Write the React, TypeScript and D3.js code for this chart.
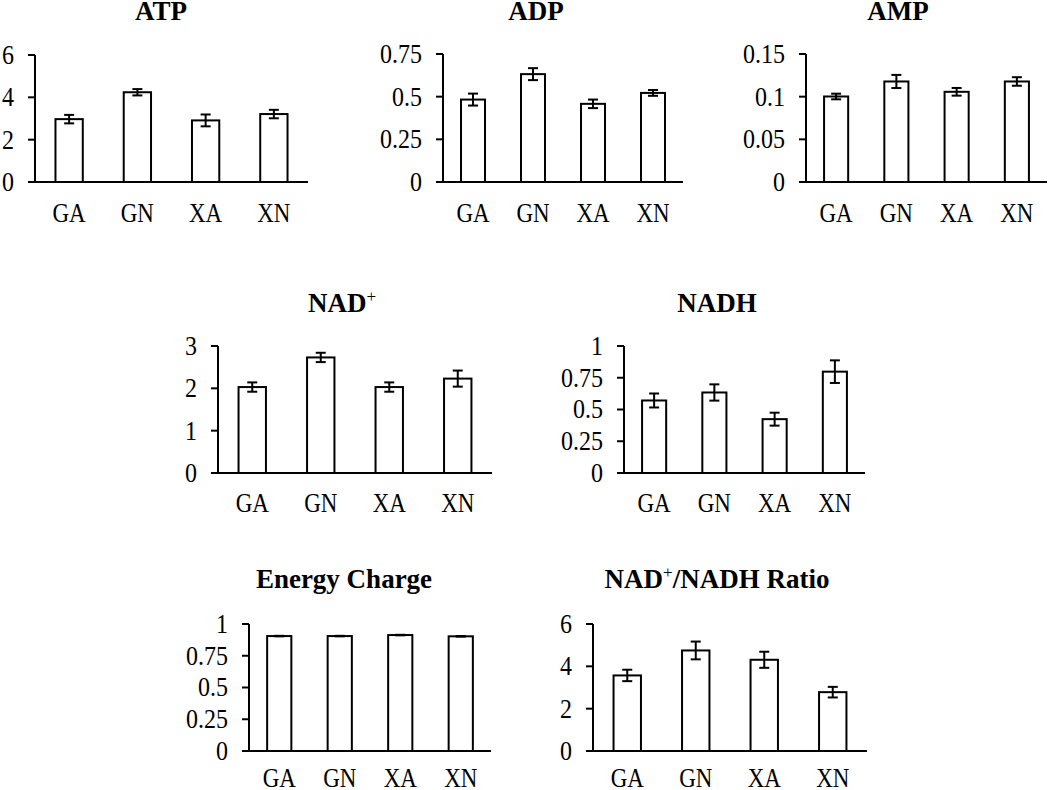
import { useEffect } from "react";
import * as d3 from "d3";

const categories = ["GA", "GN", "XA", "XN"];

const atpValues = [2.97, 4.24, 2.91, 3.21];
const atpErrors = [0.2, 0.15, 0.28, 0.2];
const atpTicks = [0, 2, 4, 6];

const adpValues = [0.483, 0.632, 0.458, 0.522];
const adpErrors = [0.035, 0.035, 0.025, 0.017];
const adpTicks = [0, 0.25, 0.5, 0.75];

const ampValues = [0.1002, 0.1178, 0.1057, 0.1178];
const ampErrors = [0.0033, 0.0077, 0.0045, 0.005];
const ampTicks = [0, 0.05, 0.1, 0.15];

const nadValues = [2.03, 2.73, 2.03, 2.23];
const nadErrors = [0.11, 0.11, 0.11, 0.19];
const nadTicks = [0, 1, 2, 3];

const nadhValues = [0.571, 0.634, 0.424, 0.798];
const nadhErrors = [0.055, 0.064, 0.051, 0.089];
const nadhTicks = [0, 0.25, 0.5, 0.75, 1];

const chargeValues = [0.905, 0.905, 0.913, 0.903];
const chargeErrors = [0.002, 0.002, 0.002, 0.002];
const chargeTicks = [0, 0.25, 0.5, 0.75, 1];

const ratioValues = [3.57, 4.75, 4.31, 2.78];
const ratioErrors = [0.27, 0.42, 0.38, 0.25];
const ratioTicks = [0, 2, 4, 6];

const FONT = "'Liberation Serif', 'Times New Roman', serif";

type Panel = {
  title: string;
  sup?: string; // superscript "+" after first part
  tail?: string;
  values: number[];
  errors: number[];
  ticks: number[];
  x0: number;
  x1: number;
  top: number;
  zero: number;
  titleX: number;
  titleY: number;
  labelY: number;
};

const panels: Panel[] = [
  { title: "ATP", values: atpValues, errors: atpErrors, ticks: atpTicks,
    x0: 35, x1: 308, top: 55, zero: 182, titleX: 161, titleY: 20, labelY: 222 },
  { title: "ADP", values: adpValues, errors: adpErrors, ticks: adpTicks,
    x0: 443, x1: 683, top: 54, zero: 182, titleX: 536, titleY: 20, labelY: 222 },
  { title: "AMP", values: ampValues, errors: ampErrors, ticks: ampTicks,
    x0: 806, x1: 1047, top: 54, zero: 182, titleX: 898, titleY: 20, labelY: 222 },
  { title: "NAD", sup: "+", values: nadValues, errors: nadErrors, ticks: nadTicks,
    x0: 218, x1: 492, top: 346, zero: 473, titleX: 342, titleY: 312, labelY: 512 },
  { title: "NADH", values: nadhValues, errors: nadhErrors, ticks: nadhTicks,
    x0: 624, x1: 865, top: 346, zero: 473, titleX: 717, titleY: 312, labelY: 512 },
  { title: "Energy Charge", values: chargeValues, errors: chargeErrors, ticks: chargeTicks,
    x0: 249, x1: 491, top: 624, zero: 751, titleX: 344, titleY: 588, labelY: 787 },
  { title: "NAD", sup: "+", tail: "/NADH Ratio", values: ratioValues, errors: ratioErrors, ticks: ratioTicks,
    x0: 593, x1: 867, top: 624, zero: 751, titleX: 717, titleY: 588, labelY: 787 },
];

function BarPanel({ p }: { p: Panel }) {
  const x = d3
    .scaleBand<string>()
    .domain(categories)
    .range([p.x0, p.x1])
    .paddingInner(0.6)
    .paddingOuter(0.3);
  const y = d3
    .scaleLinear()
    .domain([0, p.ticks[p.ticks.length - 1]])
    .range([p.zero, p.top]);
  const bw = x.bandwidth();
  const cap = 5;

  return (
    <g>
      {/* bars */}
      {categories.map((c, i) => (
        <rect
          key={c}
          x={x(c)}
          y={y(p.values[i])}
          width={bw}
          height={y(0) - y(p.values[i])}
          fill="white"
          stroke="black"
          strokeWidth={2}
        />
      ))}
      {/* error bars */}
      {categories.map((c, i) => {
        const cx = (x(c) as number) + bw / 2;
        const hi = y(p.values[i] + p.errors[i]);
        const lo = y(p.values[i] - p.errors[i]);
        return (
          <g key={c} stroke="black" strokeWidth={2}>
            <line x1={cx} x2={cx} y1={hi} y2={lo} />
            <line x1={cx - cap} x2={cx + cap} y1={hi} y2={hi} />
            <line x1={cx - cap} x2={cx + cap} y1={lo} y2={lo} />
          </g>
        );
      })}
      {/* y axis */}
      <line x1={p.x0} x2={p.x0} y1={y(p.ticks[p.ticks.length - 1])} y2={y(0)} stroke="black" strokeWidth={2} />
      {p.ticks.map((t) => (
        <g key={t}>
          <line x1={p.x0 - 7} x2={p.x0} y1={y(t)} y2={y(t)} stroke="black" strokeWidth={2} />
          <text
            transform={`translate(${p.x0 - 21},${y(t)}) scale(1,1.1)`}
            dy="0.34em"
            textAnchor="end"
            fontSize={24}
            fontFamily={FONT}
          >
            {String(t)}
          </text>
        </g>
      ))}
      {/* x axis */}
      <line x1={p.x0 - 7} x2={p.x1} y1={y(0)} y2={y(0)} stroke="black" strokeWidth={2} />
      {categories.map((c) => (
        <text
          key={c}
          transform={`translate(${(x(c) as number) + bw / 2},${p.labelY}) scale(1,1.15)`}
          textAnchor="middle"
          fontSize={23}
          fontFamily={FONT}
        >
          {c}
        </text>
      ))}
      {/* title */}
      <text
        x={p.titleX}
        y={p.titleY}
        textAnchor="middle"
        fontSize={27}
        fontWeight="bold"
        fontFamily={FONT}
      >
        <tspan>{p.title}</tspan>
        {p.sup && (
          <tspan dy={-10} fontSize={17} fontWeight="normal">
            {p.sup}
          </tspan>
        )}
        {p.tail && <tspan dy={10}>{p.tail}</tspan>}
      </text>
    </g>
  );
}

export default function App() {
  useEffect(() => {
    document.body.style.margin = "0";
  }, []);

  return (
    <svg width={1050} height={790} style={{ display: "block", background: "white" }}>
      {panels.map((p, i) => (
        <BarPanel key={i} p={p} />
      ))}
    </svg>
  );
}
